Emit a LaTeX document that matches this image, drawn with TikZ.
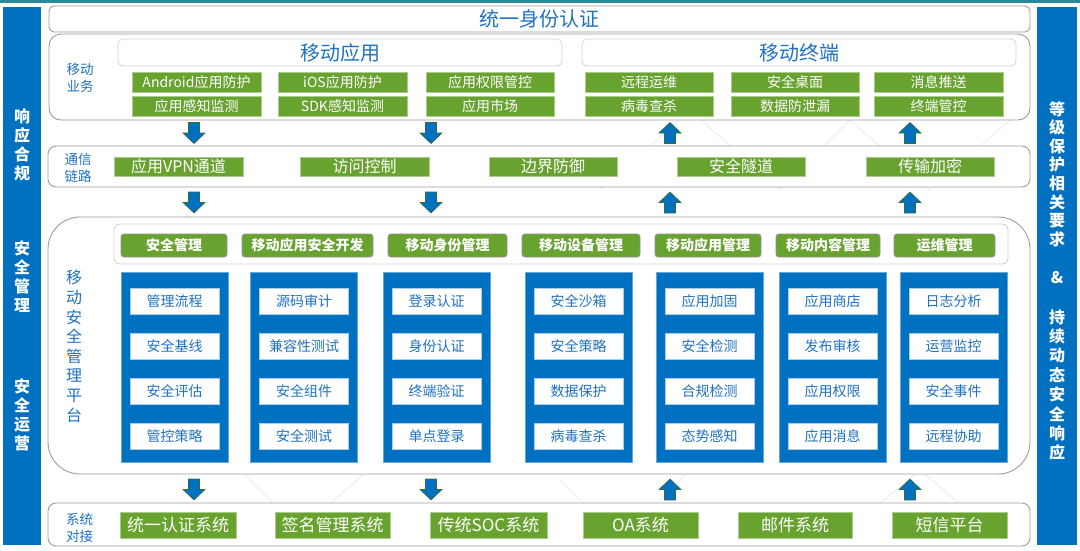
\documentclass[tikz,border=0pt]{standalone}
\usepackage{fontspec}
\setmainfont{Noto Sans CJK SC}
\definecolor{mblue}{HTML}{0070C0}
\definecolor{mgreen}{HTML}{68A22F}
\definecolor{tblue}{HTML}{1F72C2}
\definecolor{bgray}{HTML}{9C9C9C}
\definecolor{lgray}{HTML}{D2D2D2}
\definecolor{topteal}{HTML}{2B8A99}
\definecolor{arredge}{HTML}{3A6B35}
\definecolor{deco}{HTML}{E4F0FA}
\begin{document}
\begin{tikzpicture}[x=1pt,y=-1pt,
  every node/.style={inner sep=0pt, outer sep=0pt},
  frm/.style={draw=bgray, line width=0.9pt, fill=white},
  hdr/.style={draw=lgray, line width=0.8pt, fill=white, rounded corners=5pt, text=tblue, font=\fontsize{20}{22}\selectfont},
  gbox/.style={fill=mgreen, draw=mgreen!55!white, line width=0.5pt, text=white},
  gbtn/.style={fill=mgreen, draw=gray!85, line width=0.8pt, rounded corners=3pt, text=white, font=\fontsize{14}{16}\selectfont\bfseries, minimum height=23pt},
  bcol/.style={fill=mblue, draw=mblue!60!white, line width=0.5pt, minimum width=107pt, minimum height=190pt},
  wbox/.style={fill=white, draw=mblue!35!white, line width=0.5pt, text=tblue, font=\fontsize{14}{16}\selectfont, minimum width=89pt, minimum height=26pt},
  sbar/.style={fill=mblue},
  sbartxt/.style={text=white, font=\fontsize{16}{19}\selectfont\bfseries, align=center},
  lbl/.style={text=tblue, font=\fontsize{13.5}{17}\selectfont, align=center},
  arrsty/.style={fill=mblue, draw=arredge, line width=0.6pt},
  dnarrow/.pic={\path[arrsty] (-5.5,-10.5) -- (5.5,-10.5) -- (5.5,0) -- (11,0) -- (0,10.5) -- (-11,0) -- (-5.5,0) -- cycle;},
  uparrow/.pic={\path[arrsty] (-5.5,10.5) -- (5.5,10.5) -- (5.5,0) -- (11,0) -- (0,-10.5) -- (-11,0) -- (-5.5,0) -- cycle;},
  row1/.style={gbox, minimum height=20pt, font=\fontsize{14}{16}\selectfont},
  row2/.style={gbox, minimum height=19pt, font=\fontsize{16}{18}\selectfont},
  row3/.style={gbox, minimum height=26pt, font=\fontsize{17}{19}\selectfont},
]
\useasboundingbox (0,0) rectangle (1080,550);
\fill[white] (0,0) rectangle (1080,550);
% faint background decoration
\begin{scope}[draw=deco, line width=1pt]
  \draw (600,190) -- (690,110) -- (780,190) -- (850,120) -- (930,190) -- (1010,120);
  \draw (240,470) -- (300,530) -- (380,460);
  \draw (560,480) -- (620,540) -- (690,470);
  \draw (860,520) -- (920,470) -- (990,530);
  \draw (130,280) -- (200,200);
\end{scope}
\fill[topteal] (0,0) rectangle (1080,2.5);

% side bars
\node[sbar, minimum width=38pt, minimum height=538pt] (lbar) at (22,276) {};
\node[sbar, minimum width=40pt, minimum height=538pt] (rbar) at (1057,276) {};
\node[sbartxt] (lt1) at (22,144.5) {响\\应\\合\\规};
\node[sbartxt] (lt2) at (22,276.5) {安\\全\\管\\理};
\node[sbartxt] (lt3) at (22,414.5) {安\\全\\运\\营};
\node[sbartxt, font=\fontsize{16}{18.6}\selectfont\bfseries] (rt1) at (1057,174) {等\\级\\保\\护\\相\\关\\要\\求};
\node[sbartxt] (rt2) at (1057,278) {\&};
\node[sbartxt, font=\fontsize{16}{19.4}\selectfont\bfseries] (rt3) at (1057,385) {持\\续\\动\\态\\安\\全\\响\\应};

% top identity bar
\node[frm, rounded corners=5pt, minimum width=981pt, minimum height=26pt, text=tblue, font=\fontsize{20}{22}\selectfont] (idbar) at (539.5,19) {统一身份认证};

% mobile business
\node[frm, rounded corners=12pt, minimum width=981pt, minimum height=86pt] (biz) at (539.5,77) {};
\node[hdr, minimum width=444pt, minimum height=27pt] (appHdr) at (340,52.5) {移动应用};
\node[hdr, minimum width=434pt, minimum height=27pt] (termHdr) at (799,52.5) {移动终端};
\node[lbl] (bizLbl) at (80,77.5) {移动\\业务};
\node[row1, minimum width=129pt] (b11) at (196.5,82) {Android应用防护};
\node[row1, minimum width=129pt] (b12) at (342.5,82) {iOS应用防护};
\node[row1, minimum width=128pt] (b13) at (490,82) {应用权限管控};
\node[row1, minimum width=128pt] (b14) at (649,82) {远程运维};
\node[row1, minimum width=128pt] (b15) at (795,82) {安全桌面};
\node[row1, minimum width=129pt] (b16) at (938.5,82) {消息推送};
\node[row1, minimum width=129pt] (b21) at (196.5,106) {应用感知监测};
\node[row1, minimum width=129pt] (b22) at (342.5,106) {SDK感知监测};
\node[row1, minimum width=128pt] (b23) at (490,106) {应用市场};
\node[row1, minimum width=128pt] (b24) at (649,106) {病毒查杀};
\node[row1, minimum width=128pt] (b25) at (795,106) {数据防泄漏};
\node[row1, minimum width=129pt] (b26) at (938.5,106) {终端管控};

% communication link
\node[frm, rounded corners=8pt, minimum width=982pt, minimum height=41pt] (comm) at (539,166.5) {};
\node[lbl] (commLbl) at (78,168) {通信\\链路};
\node[row2, minimum width=129pt] (c1) at (178.5,166.5) {应用VPN通道};
\node[row2, minimum width=129pt] (c2) at (364.5,166.5) {访问控制};
\node[row2, minimum width=128pt] (c3) at (553,166.5) {边界防御};
\node[row2, minimum width=128pt] (c4) at (741,166.5) {安全隧道};
\node[row2, minimum width=128pt] (c5) at (930,166.5) {传输加密};

% platform
\node[frm, rounded corners=32pt, minimum width=982pt, minimum height=257pt] (plat) at (539,345.5) {};
\node[draw=lgray, line width=0.8pt, fill=white, rounded corners=6pt, minimum width=894pt, minimum height=40pt] (strip) at (561,244) {};
\node[lbl, font=\fontsize{16}{19.6}\selectfont] (platLbl) at (74,346.5) {移\\动\\安\\全\\管\\理\\平\\台};
\node[gbtn, minimum width=106pt] (h1) at (174,245.5) {安全管理};
\node[gbtn, minimum width=131pt] (h2) at (307.5,245.5) {移动应用安全开发};
\node[gbtn, minimum width=119pt] (h3) at (447.5,245.5) {移动身份管理};
\node[gbtn, minimum width=118pt] (h4) at (581,245.5) {移动设备管理};
\node[gbtn, minimum width=106pt] (h5) at (708,245.5) {移动应用管理};
\node[gbtn, minimum width=104pt] (h6) at (828,245.5) {移动内容管理};
\node[gbtn, minimum width=101pt] (h7) at (944.5,245.5) {运维管理};

\foreach \n/\x in {1/174.5, 2/304, 3/436.5, 4/578.5, 5/709.5, 6/832.5, 7/953.5}
  \node[bcol] (col\n) at (\x,367.5) {};

\foreach \n/\x/\a/\b/\c/\d in {
  1/174.5/管理流程/安全基线/安全评估/管控策略,
  2/304/源码审计/兼容性测试/安全组件/安全测试,
  3/436.5/登录认证/身份认证/终端验证/单点登录,
  4/578.5/安全沙箱/安全策略/数据保护/病毒查杀,
  5/709.5/应用加固/安全检测/合规检测/态势感知,
  6/832.5/应用商店/发布审核/应用权限/应用消息,
  7/953.5/日志分析/运营监控/安全事件/远程协助}{
  \node[wbox] (w\n a) at (\x,301) {\a};
  \node[wbox] (w\n b) at (\x,346) {\b};
  \node[wbox] (w\n c) at (\x,391) {\c};
  \node[wbox] (w\n d) at (\x,436) {\d};
}

% system docking
\node[frm, rounded corners=8pt, minimum width=982pt, minimum height=43pt] (sys) at (539,524.5) {};
\node[lbl] (sysLbl) at (79.5,528) {系统\\对接};
\node[row3, minimum width=116pt] (s1) at (178,525) {统一认证系统};
\node[row3, minimum width=115pt] (s2) at (332.5,525) {签名管理系统};
\node[row3, minimum width=117pt] (s3) at (488.5,525) {传统SOC系统};
\node[row3, minimum width=115pt] (s4) at (640.5,525) {OA系统};
\node[row3, minimum width=114pt] (s5) at (795,525) {邮件系统};
\node[row3, minimum width=115pt] (s6) at (949.5,525) {短信平台};

% block arrows
\foreach \y in {133,202.5,489.5}{
  \pic at (194,\y) {dnarrow};
  \pic at (431,\y) {dnarrow};
  \pic at (670,\y) {uparrow};
  \pic at (910,\y) {uparrow};
}
\end{tikzpicture}
\end{document}
